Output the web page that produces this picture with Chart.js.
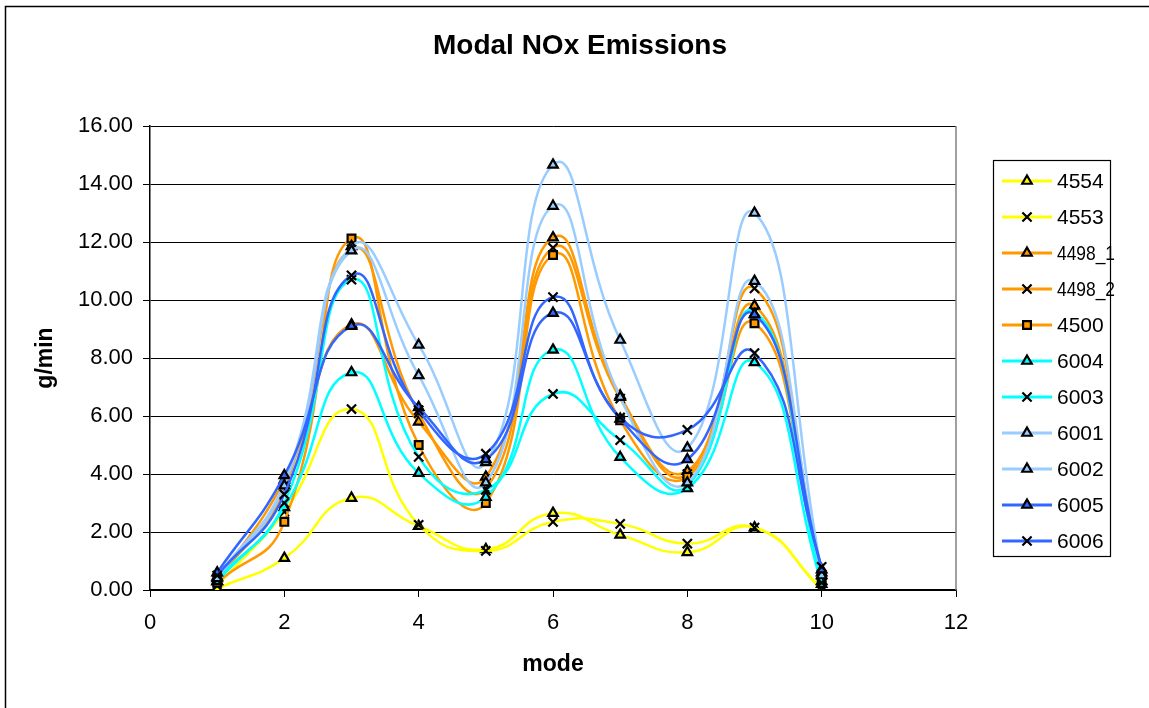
<!DOCTYPE html>
<html>
<head>
<meta charset="utf-8">
<script src="https://cdn.jsdelivr.net/npm/chart.js@4/dist/chart.umd.min.js"></script>
<style>
  html, body { margin: 0; padding: 0; background: #fff; }
  #wrap { position: relative; width: 1149px; height: 708px; }
</style>
</head>
<body>
<div id="wrap"><canvas id="chart"></canvas></div>
<script>
// mode numbers on the x axis
const modes = [1, 2, 3, 4, 5, 6, 7, 8, 9, 10];

// g/min per mode
const s4554  = [0.05, 1.10, 3.17, 2.20, 1.40, 2.65, 1.90, 1.30, 2.15, 0.02];
const s4553  = [0.15, 2.70, 6.24, 2.25, 1.35, 2.35, 2.28, 1.60, 2.15, 0.05];
const s4498a = [0.30, 3.80, 9.15, 5.80, 3.90, 12.15, 6.70, 4.10, 9.80, 0.30];
const s4498b = [0.35, 3.50, 11.75, 6.10, 3.50, 11.80, 6.60, 4.00, 10.40, 0.50];
const s4500  = [0.25, 2.35, 12.12, 5.00, 3.00, 11.55, 5.85, 3.90, 9.20, 0.45];
const s6004  = [0.30, 2.85, 7.50, 4.03, 3.20, 8.28, 4.58, 3.50, 7.85, 0.20];
const s6003  = [0.35, 3.00, 10.70, 4.59, 3.45, 6.76, 5.17, 3.60, 9.60, 0.25];
const s6001  = [0.45, 3.70, 11.85, 8.45, 4.40, 14.66, 8.62, 4.90, 13.00, 0.60];
const s6002  = [0.40, 3.60, 11.70, 7.40, 3.70, 13.24, 6.65, 3.70, 10.65, 0.50];
const s6005  = [0.60, 3.95, 9.10, 6.30, 4.50, 9.55, 5.90, 4.50, 9.50, 0.70];
const s6006  = [0.50, 3.30, 10.85, 6.20, 4.70, 10.10, 5.95, 5.52, 8.17, 0.80];

const yTicks = [0, 2, 4, 6, 8, 10, 12, 14, 16];

const YELLOW = "#ffff00", ORANGE = "#ff9900", CYAN = "#00ffff", LIGHT = "#99ccff", BLUE = "#3366ff";

function series(label, values, color, marker) {
    return {
        label: label,
        data: values.map((v, i) => ({ x: modes[i], y: v })),
        borderColor: color,
        backgroundColor: color,
        borderWidth: 2.5,
        tension: 0.5,
        pointStyle: marker,
        pointRadius: marker === "crossRot" ? 6.5 : 5.5,
        pointBorderWidth: 2.2,
        pointBorderColor: "#000",
        pointBackgroundColor: color,
    };
}

const datasets = [
    series("4554", s4554, YELLOW, "triangle"),
    series("4553", s4553, YELLOW, "crossRot"),
    series("4498_1", s4498a, ORANGE, "triangle"),
    series("4498_2", s4498b, ORANGE, "crossRot"),
    series("4500", s4500, ORANGE, "rect"),
    series("6004", s6004, CYAN, "triangle"),
    series("6003", s6003, CYAN, "crossRot"),
    series("6001", s6001, LIGHT, "triangle"),
    series("6002", s6002, LIGHT, "triangle"),
    series("6005", s6005, BLUE, "triangle"),
    series("6006", s6006, BLUE, "crossRot"),
];
// excel draws the first series underneath
datasets.forEach((d, i) => { d.order = datasets.length - i; });

// title, outer frame and the boxed legend on the right
const decor = {
    id: "decor",
    afterDraw(chart) {
        const ctx = chart.ctx;
        const area = chart.chartArea;
        ctx.save();
        ctx.strokeStyle = "#000";
        ctx.lineWidth = 1.5;
        ctx.strokeRect(5.5, 6.5, 1160, 720);

        ctx.strokeStyle = "#808080";
        ctx.lineWidth = 1.5;
        ctx.beginPath();
        ctx.moveTo(area.right, area.top);
        ctx.lineTo(area.right, area.bottom);
        ctx.stroke();

        ctx.fillStyle = "#000";
        ctx.font = "bold 28px 'Liberation Sans', Arial, sans-serif";
        ctx.textAlign = "center";
        ctx.textBaseline = "middle";
        ctx.fillText("Modal NOx Emissions", 580, 46);

        ctx.strokeStyle = "#000";
        ctx.lineWidth = 1.2;
        ctx.strokeRect(993.5, 160.5, 117, 396);
        ctx.font = "21px 'Liberation Sans', Arial, sans-serif";
        ctx.textAlign = "left";
        chart.data.datasets.forEach((d, i) => {
            const y = 181 + i * 36;
            ctx.strokeStyle = d.borderColor;
            ctx.lineWidth = 3;
            ctx.beginPath();
            ctx.moveTo(1002, y);
            ctx.lineTo(1052, y);
            ctx.stroke();
            ctx.strokeStyle = "#000";
            ctx.fillStyle = d.borderColor;
            ctx.lineWidth = 2.2;
            Chart.helpers.drawPoint(ctx, { pointStyle: d.pointStyle, radius: d.pointRadius, rotation: 0, borderWidth: 2.2 }, 1027, y);
            ctx.fillStyle = "#000";
            ctx.fillText(d.label, 1057, y + 1, 58);
        });
        ctx.restore();
    }
};

const tickFont = { family: "'Liberation Sans', Arial, sans-serif", size: 22 };
const titleFont = { family: "'Liberation Sans', Arial, sans-serif", size: 23, weight: "bold" };

new Chart(document.getElementById("chart"), {
    type: "line",
    data: { datasets: datasets },
    options: {
        responsive: true,
        maintainAspectRatio: false,
        animation: false,
        layout: { padding: { left: 0, top: 126, right: 193, bottom: 0 } },
        plugins: { legend: { display: false }, tooltip: { enabled: false } },
        scales: {
            x: {
                type: "linear",
                min: 0, max: 12,
                ticks: { stepSize: 2, color: "#000", font: tickFont, padding: 13, maxRotation: 0 },
                grid: { drawOnChartArea: false, drawTicks: true, tickLength: 7, color: "#000" },
                border: { color: "#000", width: 1.5 },
                title: { display: true, text: "mode", color: "#000", font: titleFont, padding: { top: 0, bottom: 30 } },
                afterFit(scale) { scale.height = 118; },
            },
            y: {
                min: 0, max: 16,
                afterBuildTicks(scale) { scale.ticks = yTicks.map(v => ({ value: v })); },
                ticks: { color: "#000", font: tickFont, padding: 10, callback: v => v.toFixed(2) },
                grid: { color: "#000", lineWidth: 1, tickLength: 7 },
                border: { color: "#000", width: 1.5 },
                title: { display: true, text: "g/min", color: "#000", font: titleFont, padding: { top: 32, bottom: 0 } },
                afterFit(scale) { scale.width = 150; },
            },
        },
    },
    plugins: [decor],
});
</script>
</body>
</html>
